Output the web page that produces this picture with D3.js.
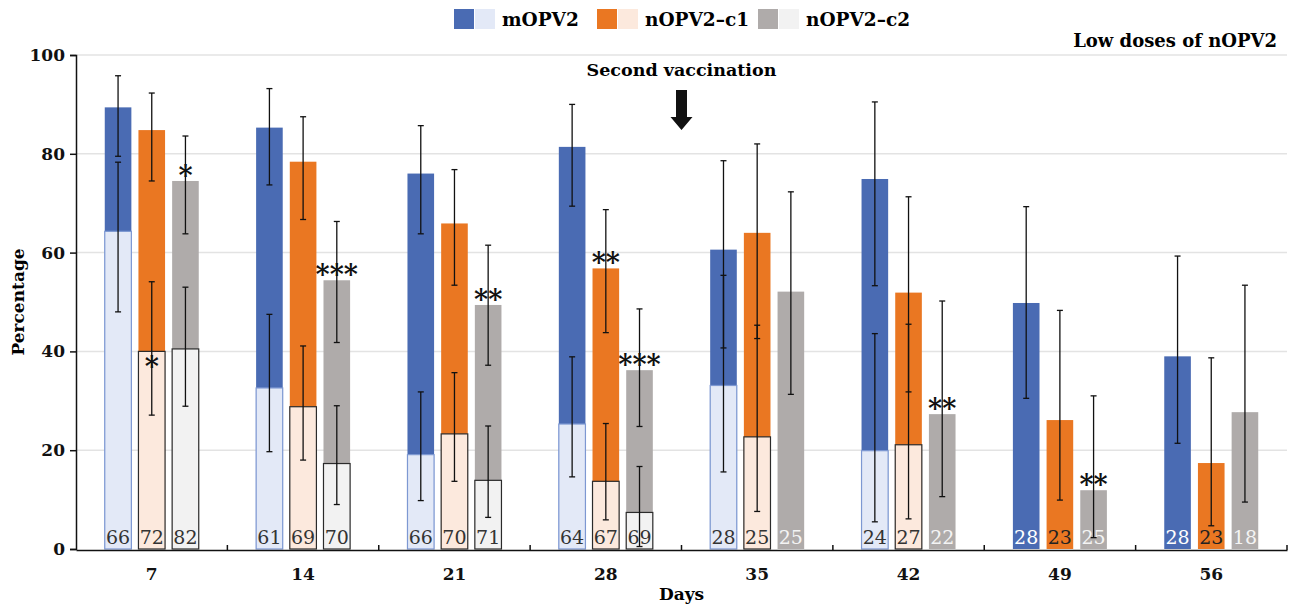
<!DOCTYPE html>
<html>
<head>
<meta charset="utf-8">
<script src="https://cdn.jsdelivr.net/npm/d3@7"></script>
<style>
  body { margin: 0; background: #fff; }
  text { font-family: "DejaVu Serif", serif; }
</style>
</head>
<body>
<svg id="chart"></svg>
<script>
const days = [7, 14, 21, 28, 35, 42, 49, 56];
const series = ['mOPV2', 'nOPV2–c1', 'nOPV2–c2'];

// dark bars (whole group) with 95% CI
const mopv2    = [89.4, 85.3, 76.0, 81.4, 60.6, 74.9, 49.8, 39.0];
const mopv2Lo  = [79.5, 73.7, 63.8, 69.4, 40.7, 53.3, 30.5, 21.4];
const mopv2Hi  = [95.8, 93.2, 85.7, 90.0, 78.6, 90.5, 69.3, 59.3];
const c1       = [84.8, 78.4, 65.9, 56.8, 64.0, 51.9, 26.1, 17.4];
const c1Lo     = [74.5, 66.7, 53.4, 43.8, 42.6, 31.8, 9.9, 4.7];
const c1Hi     = [92.3, 87.5, 76.8, 68.7, 82.0, 71.3, 48.3, 38.7];
const c2       = [74.5, 54.4, 49.4, 36.2, 52.1, 27.3, 11.9, 27.7];
const c2Lo     = [63.8, 41.8, 37.2, 24.8, 31.3, 10.6, 2.3, 9.5];
const c2Hi     = [83.6, 66.3, 61.5, 48.6, 72.3, 50.2, 31.0, 53.4];

// light bars (overlaid) with 95% CI
const mopv2Light   = [64.3, 32.6, 19.1, 25.3, 33.1, 19.9, null, null];
const mopv2LightLo = [48.0, 19.7, 9.8, 14.6, 15.6, 5.5, null, null];
const mopv2LightHi = [78.3, 47.5, 31.8, 38.9, 55.4, 43.6, null, null];
const c1Light      = [40.0, 28.8, 23.3, 13.7, 22.7, 21.1, null, null];
const c1LightLo    = [27.1, 18.0, 13.7, 5.9, 7.6, 6.1, null, null];
const c1LightHi    = [54.1, 41.1, 35.7, 25.4, 45.3, 45.5, null, null];
const c2Light      = [40.5, 17.3, 13.9, 7.4, null, null, null, null];
const c2LightLo    = [28.9, 9.0, 6.4, 0.5, null, null, null, null];
const c2LightHi    = [53.0, 29.0, 24.9, 16.7, null, null, null, null];

// sample sizes written at the foot of each bar
const nMopv2 = [66, 61, 66, 64, 28, 24, 28, 28];
const nC1    = [72, 69, 70, 67, 25, 27, 23, 23];
const nC2    = [82, 70, 71, 69, 25, 22, 25, 18];

// significance marks: day, series index, text, which bar it sits on
const stars = [
  {day: 7, s: 2, text: '*', on: 'dark'},
  {day: 7, s: 1, text: '*', on: 'light'},
  {day: 14, s: 2, text: '***', on: 'dark'},
  {day: 21, s: 2, text: '**', on: 'dark'},
  {day: 28, s: 1, text: '**', on: 'dark'},
  {day: 28, s: 2, text: '***', on: 'dark'},
  {day: 42, s: 2, text: '**', on: 'dark'},
  {day: 49, s: 2, text: '**', on: 'dark'}
];

const yTicks = [0, 20, 40, 60, 80, 100];

const darkCols  = ['#4a6bb3', '#ea7722', '#afabaa'];
const lightCols = ['#e3e9f7', '#fce9dd', '#f2f2f2'];
const lightStroke = ['#7d98d2', '#2b2b2b', '#2b2b2b'];
const nonLightText = ['#ffffff', '#222222', '#f4f4f4'];

const dark  = [mopv2, c1, c2], darkLo = [mopv2Lo, c1Lo, c2Lo], darkHi = [mopv2Hi, c1Hi, c2Hi];
const light = [mopv2Light, c1Light, c2Light], lightLo = [mopv2LightLo, c1LightLo, c2LightLo], lightHi = [mopv2LightHi, c1LightHi, c2LightHi];
const counts = [nMopv2, nC1, nC2];

const rows = [];
days.forEach((d, i) => series.forEach((s, k) => rows.push({
  day: d, k: k, v: dark[k][i], lo: darkLo[k][i], hi: darkHi[k][i],
  lv: light[k][i], llo: lightLo[k][i], lhi: lightHi[k][i], n: counts[k][i]
})));

const W = 1296, H = 606;
const svg = d3.select('#chart').attr('width', W).attr('height', H);

const x = d3.scaleBand().domain(days).range([76, 1287]).paddingInner(0.379).paddingOuter(0.19);
const xEdge = d3.scaleBand().domain(days).range([76, 1287]).padding(0);
const xs = d3.scaleBand().domain(d3.range(series.length)).range([0, x.bandwidth()]).paddingInner(0.21);
const y = d3.scaleLinear().domain([0, 100]).range([549, 55]);

// gridlines
svg.append('g').selectAll('line').data(yTicks.filter(t => t > 0)).enter().append('line')
  .attr('x1', 76).attr('x2', 1287)
  .attr('y1', d => y(d)).attr('y2', d => y(d))
  .attr('stroke', '#e3e3e3').attr('stroke-width', 1.5);

const g = svg.append('g');
const bx = d => x(d.day) + xs(d.k);

g.selectAll('rect.dark').data(rows).enter().append('rect')
  .attr('class', 'dark')
  .attr('x', bx).attr('width', xs.bandwidth())
  .attr('y', d => y(d.v)).attr('height', d => y(0) - y(d.v))
  .attr('fill', d => darkCols[d.k]);

const lrows = rows.filter(d => d.lv != null);
g.selectAll('rect.light').data(lrows).enter().append('rect')
  .attr('class', 'light')
  .attr('x', bx).attr('width', xs.bandwidth())
  .attr('y', d => y(d.lv)).attr('height', d => y(0) - y(d.lv))
  .attr('fill', d => lightCols[d.k])
  .attr('stroke', d => lightStroke[d.k]).attr('stroke-width', 1.2);

// error bars
const errs = rows.map(d => ({day: d.day, k: d.k, lo: d.lo, hi: d.hi}))
  .concat(lrows.map(d => ({day: d.day, k: d.k, lo: d.llo, hi: d.lhi})));
const cx = d => bx(d) + xs.bandwidth() / 2;
const eg = g.selectAll('g.err').data(errs).enter().append('g').attr('class', 'err')
  .attr('stroke', '#111').attr('stroke-width', 1.3);
eg.append('line').attr('x1', cx).attr('x2', cx).attr('y1', d => y(d.lo)).attr('y2', d => y(d.hi));
eg.append('line').attr('x1', d => cx(d) - 3).attr('x2', d => cx(d) + 3).attr('y1', d => y(d.lo)).attr('y2', d => y(d.lo));
eg.append('line').attr('x1', d => cx(d) - 3).attr('x2', d => cx(d) + 3).attr('y1', d => y(d.hi)).attr('y2', d => y(d.hi));

// counts at the foot of the bars
g.selectAll('text.n').data(rows).enter().append('text')
  .attr('x', cx).attr('y', y(0) - 5)
  .attr('text-anchor', 'middle')
  .attr('font-size', 19)
  .attr('fill', d => d.lv != null ? '#333' : nonLightText[d.k])
  .text(d => d.n);

// stars
g.selectAll('text.star').data(stars).enter().append('text')
  .attr('x', d => x(d.day) + xs(d.s) + xs.bandwidth() / 2)
  .attr('y', d => {
    const i = days.indexOf(d.day);
    return d.on === 'dark' ? y(dark[d.s][i]) + 4 : y(light[d.s][i]) + 25;
  })
  .attr('text-anchor', 'middle')
  .attr('font-size', 27).attr('font-weight', 'bold')
  .attr('fill', '#111')
  .text(d => d.text);

// axes
const yAxis = svg.append('g').attr('transform', 'translate(76,0)')
  .call(d3.axisLeft(y).tickValues(yTicks).tickSize(6).tickPadding(5));
yAxis.select('.domain').attr('stroke', '#111').attr('stroke-width', 1.5);
yAxis.selectAll('.tick line').attr('stroke', '#111').attr('stroke-width', 1.5);
yAxis.selectAll('text').attr('font-size', 17).attr('font-weight', 'bold').attr('fill', '#111')
  .style('font-family', '"DejaVu Serif", serif');

const xAxis = svg.append('g').attr('transform', `translate(0,${y(0) + 1})`)
  .call(d3.axisBottom(x).tickSize(0).tickPadding(18));
xAxis.select('.domain').attr('stroke', '#111').attr('stroke-width', 1.5);
xAxis.selectAll('text').attr('font-size', 17).attr('font-weight', 'bold').attr('fill', '#111')
  .style('font-family', '"DejaVu Serif", serif');
svg.append('g').selectAll('line').data(days).enter().append('line')
  .attr('x1', d => xEdge(d) + xEdge.bandwidth()).attr('x2', d => xEdge(d) + xEdge.bandwidth())
  .attr('y1', y(0) + 1).attr('y2', y(0) - 4)
  .attr('stroke', '#111').attr('stroke-width', 1.5);

svg.append('text').attr('x', (76 + 1287) / 2).attr('y', 600)
  .attr('text-anchor', 'middle').attr('font-size', 17).attr('font-weight', 'bold').text('Days');
svg.append('text').attr('transform', `translate(24,${y(50)}) rotate(-90)`)
  .attr('text-anchor', 'middle').attr('font-size', 17).attr('font-weight', 'bold').text('Percentage');

// annotations
svg.append('text').attr('x', 1277).attr('y', 47).attr('text-anchor', 'end')
  .attr('font-size', 18).attr('font-weight', 'bold').text('Low doses of nOPV2');
const arrowX = xEdge(35);
svg.append('text').attr('x', arrowX).attr('y', 76).attr('text-anchor', 'middle')
  .attr('font-size', 17.5).attr('font-weight', 'bold').text('Second vaccination');
svg.append('path')
  .attr('d', d3.line()([[arrowX - 5.5, 90], [arrowX + 5.5, 90], [arrowX + 5.5, 117], [arrowX + 11, 117],
    [arrowX, 130], [arrowX - 11, 117], [arrowX - 5.5, 117]]) + 'Z')
  .attr('fill', '#111');

// legend
const lg = svg.append('g');
const legendX = [454, 597, 758];
series.forEach((s, k) => {
  const gg = lg.append('g').attr('transform', `translate(${legendX[k]},9)`);
  gg.append('rect').attr('width', 20).attr('height', 20).attr('fill', darkCols[k]);
  gg.append('rect').attr('x', 21).attr('width', 20).attr('height', 20).attr('fill', lightCols[k]);
  gg.append('text').attr('x', 48).attr('y', 16.5).attr('font-size', 18.5).attr('font-weight', 'bold').text(s);
});
</script>
</body>
</html>
